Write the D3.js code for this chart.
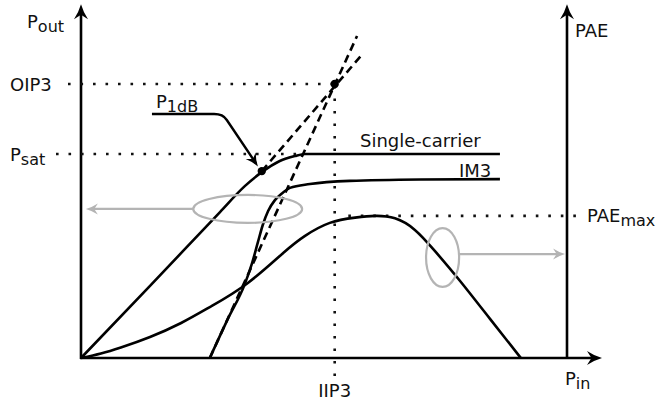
<!DOCTYPE html>
<html>
<head>
<meta charset="utf-8">
<script src="https://cdn.jsdelivr.net/npm/d3@7"></script>
<style>
  html, body { margin: 0; padding: 0; background: #fff; }
  svg { display: block; }
  text { font-family: "DejaVu Sans", Verdana, sans-serif; fill: #111; }
</style>
</head>
<body>
<svg id="chart" width="660" height="403"></svg>
<script>
// Power-amplifier transfer characteristics (normalised units, 0..100)
// Output power of a single carrier vs. input power
const singleCarrierPin  = [0, 14.2, 28.6, 33.7, 37.2, 40.9, 44.0, 46.1, 86.2];
const singleCarrierPout = [0, 20.6, 41.7, 49.1, 53.1, 56.3, 57.7, 58.3, 58.3];

// Third-order intermodulation product
const im3Pin  = [26.5, 30.2, 33.7, 35.2, 36.4, 37.4, 38.5, 39.9, 41.4, 43.0, 47.1, 55.3, 69.8, 86.2];
const im3Pout = [0, 11.1, 21.1, 27.1, 33.1, 38.0, 42.0, 45.1, 47.1, 48.6, 49.7, 50.6, 51.0, 51.1];

// Power-added efficiency
const paePin = [0, 4.1, 8.2, 14.2, 20.6, 26.7, 34.2, 41.6, 46.1, 51.2, 56.4, 60.5, 64.6, 68.7, 72.8, 78.0, 84.2, 90.5];
const paeVal = [0, 1.3, 3.0, 6.0, 10.0, 14.7, 21.3, 30.0, 34.9, 38.6, 40.1, 40.6, 39.9, 36.6, 30.6, 22.0, 11.1, 0];

// Characteristic levels
const levelNames  = ["OIP3", "Psat", "PAEmax"];
const levelValues = [78.3, 58.3, 40.6];
const iip3 = 52.2;
const p1dB = [37.2, 53.4];

// Linear extrapolations (fundamental and IM3)
const fundExtrap = [[37.2, 53.4], [57.9, 86.8]];
const im3Extrap  = [[26.5, 0], [56.8, 92.0]];

// Axis extents
const axisTopY = 101.1, axisRightX = 107.2;

const svg = d3.select("#chart");
const x = d3.scaleLinear().domain([0, 100]).range([81, 567]);
const y = d3.scaleLinear().domain([0, 100]).range([358, 8]);

const zip = (a, b) => a.map((v, i) => [v, b[i]]);
const line = d3.line().x(d => x(d[0])).y(d => y(d[1]));

function arrowHead(g, tip, angle, len, half, color) {
  // notched arrowhead pointing along `angle` (radians)
  const p = d3.path();
  const c = Math.cos(angle), s = Math.sin(angle);
  const pt = (u, v) => [tip[0] + u * c - v * s, tip[1] + u * s + v * c];
  const a = pt(0, 0), b = pt(-len, -half), n = pt(-len * 0.7, 0), d = pt(-len, half);
  p.moveTo(...a);
  p.quadraticCurveTo(...pt(-len * 0.55, -half * 0.35), ...b);
  p.lineTo(...n);
  p.lineTo(...d);
  p.quadraticCurveTo(...pt(-len * 0.55, half * 0.35), ...a);
  p.closePath();
  g.append("path").attr("d", p.toString()).attr("fill", color).attr("stroke", "none");
}

const gAxes = svg.append("g");
const gGuides = svg.append("g");
const gCurves = svg.append("g");
const gNotes = svg.append("g");

// Dotted guide lines
const dotted = sel => sel.attr("stroke", "#111").attr("stroke-width", 2.6)
  .attr("stroke-dasharray", "2.6,9.9").attr("fill", "none");

gGuides.append("line").call(dotted)
  .attr("x1", x(0) - 13).attr("x2", x(iip3)).attr("y1", y(levelValues[0])).attr("y2", y(levelValues[0]));
gGuides.append("line").call(dotted)
  .attr("x1", x(0) - 25).attr("x2", x(46.1)).attr("y1", y(levelValues[1])).attr("y2", y(levelValues[1]));
gGuides.append("line").call(dotted)
  .attr("x1", x(55)).attr("x2", x(100) + 10).attr("y1", y(levelValues[2])).attr("y2", y(levelValues[2]));
gGuides.append("line").call(dotted)
  .attr("x1", x(iip3)).attr("x2", x(iip3)).attr("y1", y(levelValues[0]) + 2).attr("y2", y(0) + 20);

// Axes
const axisStroke = sel => sel.attr("stroke", "#000").attr("stroke-width", 2.6).attr("fill", "none");
gAxes.append("line").call(axisStroke)
  .attr("x1", x(0)).attr("x2", x(0)).attr("y1", y(0) + 1).attr("y2", y(axisTopY) + 8);
arrowHead(gAxes, [x(0), y(axisTopY)], -Math.PI / 2, 15, 7, "#000");
gAxes.append("line").call(axisStroke)
  .attr("x1", x(100)).attr("x2", x(100)).attr("y1", y(0)).attr("y2", y(axisTopY) + 8);
arrowHead(gAxes, [x(100), y(axisTopY)], -Math.PI / 2, 15, 7, "#000");
gAxes.append("line").call(axisStroke)
  .attr("x1", x(0) - 1).attr("x2", x(axisRightX) - 8).attr("y1", y(0)).attr("y2", y(0));
arrowHead(gAxes, [x(axisRightX), y(0)], 0, 15, 7, "#000");

// Extrapolation lines
const dashed = sel => sel.attr("stroke", "#000").attr("stroke-width", 2.6)
  .attr("stroke-dasharray", "8,5").attr("fill", "none");
gCurves.append("path").call(dashed).attr("d", line(fundExtrap));
gCurves.append("path").call(dashed).attr("d", line(im3Extrap));

// Curves
const solid = sel => sel.attr("stroke", "#000").attr("stroke-width", 2.6).attr("fill", "none")
  .attr("stroke-linejoin", "round");
gCurves.append("path").call(solid)
  .attr("d", line.curve(d3.curveMonotoneX)(zip(singleCarrierPin, singleCarrierPout)));
gCurves.append("path").call(solid)
  .attr("d", line.curve(d3.curveMonotoneX)(zip(im3Pin, im3Pout)));
gCurves.append("path").call(solid)
  .attr("d", line.curve(d3.curveNatural)(zip(paePin, paeVal)));

// Marker dots
gCurves.append("circle").attr("cx", x(p1dB[0])).attr("cy", y(p1dB[1])).attr("r", 4.2).attr("fill", "#000");
gCurves.append("circle").attr("cx", x(iip3)).attr("cy", y(levelValues[0])).attr("r", 4.2).attr("fill", "#000");

// Leader line for the 1 dB compression point
const leader = d3.path();
leader.moveTo(x(14.6), y(69.7));
leader.lineTo(x(27.4), y(69.7));
leader.quadraticCurveTo(x(29.2), y(69.7), x(30.0), y(68.0));
leader.lineTo(x(36.0), y(55.6));
gNotes.append("path").attr("d", leader.toString()).attr("stroke", "#000")
  .attr("stroke-width", 2.4).attr("fill", "none");
arrowHead(gNotes, [x(36.4), y(54.7)], Math.atan2(y(54.7) - y(68.0), x(36.4) - x(30.0)), 13, 6, "#000");

// Axis-assignment ellipses with grey arrows
const grey = "#b4b4b4";
gNotes.append("ellipse").attr("cx", x(34.3)).attr("cy", y(42.6))
  .attr("rx", x(11.2) - x(0)).attr("ry", y(0) - y(4))
  .attr("fill", "none").attr("stroke", grey).attr("stroke-width", 2.2);
gNotes.append("line").attr("x1", x(23.1)).attr("x2", x(1.0) + 7)
  .attr("y1", y(42.6)).attr("y2", y(42.6)).attr("stroke", grey).attr("stroke-width", 2.2);
arrowHead(gNotes, [x(1.0), y(42.6)], Math.PI, 12, 5.5, grey);

gNotes.append("ellipse").attr("cx", x(74.4)).attr("cy", y(28.7))
  .attr("rx", x(3.4) - x(0)).attr("ry", y(0) - y(8.4))
  .attr("fill", "none").attr("stroke", grey).attr("stroke-width", 2.2);
gNotes.append("line").attr("x1", x(77.8)).attr("x2", x(99.6) - 7)
  .attr("y1", y(29.7)).attr("y2", y(29.7)).attr("stroke", grey).attr("stroke-width", 2.2);
arrowHead(gNotes, [x(99.6), y(29.7)], 0, 12, 5.5, grey);

// Labels
function label(px, py, main, sub, anchor) {
  const t = svg.append("text").attr("x", px).attr("y", py).attr("font-size", 18)
    .attr("text-anchor", anchor || "start").text(main);
  if (sub) t.append("tspan").attr("dy", 4).attr("font-size", 16).text(sub);
  return t;
}
label(27, 28, "P", "out");
label(10, y(levelValues[0]) + 7, "OIP3");
label(10, y(levelValues[1]) + 7, "P", "sat");
label(156, 108, "P", "1dB");
label(360, 147, "Single-carrier");
label(459, 177, "IM3");
label(575, 37, "PAE");
label(587, y(levelValues[2]) + 6, "PAE", "max");
label(x(iip3), 397, "IIP3", null, "middle");
label(565, 385, "P", "in");
</script>
</body>
</html>
